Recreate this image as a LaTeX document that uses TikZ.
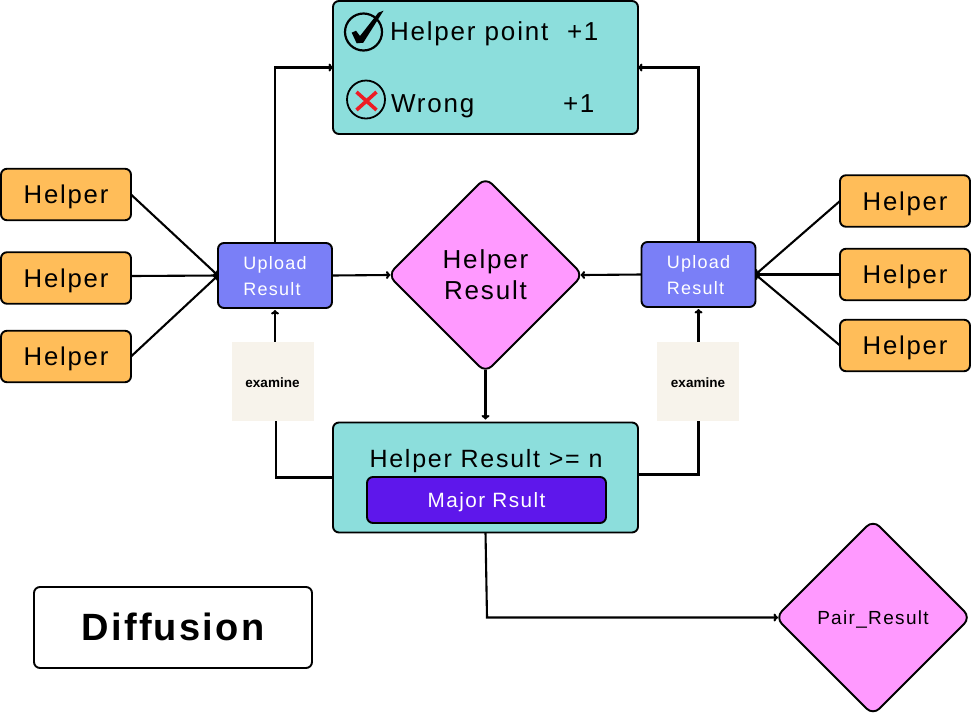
\documentclass[tikz,border=0pt]{standalone}
\usepackage{fontspec}
\usetikzlibrary{arrows.meta,shapes.geometric,calc}
\setmainfont{Liberation Sans}
\newfontfamily\lsfont[LetterSpace=7]{Liberation Sans}
\newfontfamily\lsbold[LetterSpace=6,BoldFont={Liberation Sans Bold}]{Liberation Sans}
\definecolor{cOrange}{HTML}{FFBD59}
\definecolor{cTeal}{HTML}{8CDEDC}
\definecolor{cBlue}{HTML}{7A7FF7}
\definecolor{cPink}{HTML}{FF99FF}
\definecolor{cMajor}{HTML}{5E17EB}
\definecolor{cExam}{HTML}{F7F3EB}
\definecolor{cRed}{HTML}{ED1C24}
\newcommand{\uptext}{\raisebox{-6.5pt}[0pt][0pt]{\begin{tabular}{@{}l@{}}Upload\\Result\end{tabular}}}
\tikzset{
  base/.style={draw=black,line width=1.9pt,rounded corners=6pt,inner sep=0pt,outer sep=0pt},
  helperbox/.style={base,fill=cOrange,minimum width=130pt,minimum height=51.5pt,text height=18pt,text depth=0pt,font=\fontsize{25.7}{28}\selectfont\lsfont},
  uploadbox/.style={base,fill=cBlue,minimum width=114pt,minimum height=65pt,text=white,font=\fontsize{18}{26}\selectfont\lsfont},
  tealbox/.style={base,fill=cTeal,minimum width=305pt},
  pinkdiamond/.style={draw=black,line width=1.9pt,fill=cPink,diamond,aspect=1,rounded corners=9pt,inner sep=0pt,outer sep=0pt,minimum width=195pt,minimum height=195pt,align=center},
  exambox/.style={fill=cExam,inner sep=0pt,outer sep=0pt,text height=12pt,text depth=0pt,font=\fontsize{13.5}{16}\selectfont\bfseries},
  label/.style={inner sep=0pt,outer sep=0pt,anchor=base west,font=\fontsize{26}{28}\selectfont\lsfont},
  conn/.style={draw=black,line width=2.1pt},
  arr/.style={conn,-{To[length=4.5pt,width=8pt]}},
}
\begin{document}
\begin{tikzpicture}[x=1pt,y=-1pt]
\useasboundingbox (0,0) rectangle (971,716);
% helpers left
\node[helperbox] (hl1) at (66,194.5) {Helper};
\node[helperbox] (hl2) at (66,278) {Helper};
\node[helperbox] (hl3) at (66,356.5) {Helper};
% helpers right
\node[helperbox] (hr1) at (905,201) {Helper};
\node[helperbox] (hr2) at (905,274.5) {Helper};
\node[helperbox] (hr3) at (905,345.5) {Helper};
% uploads
\node[uploadbox] (upl) at (275,275.5) {\uptext};
\node[uploadbox] (upr) at (698.5,274.5) {\uptext};
% score box
\node[tealbox,minimum height=133pt] (score) at (485.5,67.5) {};
\node[circle,draw=black,line width=2.2pt,minimum size=37pt,inner sep=0pt] (okc) at (363.5,32) {};
\fill[black] (351.7,32.7) -- (356,30.7) -- (360,36) -- (378.3,12.7) -- (383.5,10.7) -- (363.3,42.7) -- (356.7,43.3) -- cycle;
\node[circle,draw=black,line width=1.8pt,minimum size=38pt,inner sep=0pt] (noc) at (366,99.5) {};
\draw[cRed,line width=3.6pt] (356.5,92) -- (376.5,110) (376.5,92) -- (356.5,110);
\node[label] (t1) at (390,40) {Helper point};
\node[label] (t2) at (567,40.5) {+1};
\node[label] (t3) at (391,112) {Wrong};
\node[label] (t4) at (563,112) {+1};
% diamonds
\node[pinkdiamond,font=\fontsize{26}{31}\selectfont\lsfont] (dmid) at (485.5,275) {Helper\\Result};
\node[pinkdiamond,text height=13pt,text depth=0pt,font=\fontsize{19}{22}\selectfont\lsfont] (dpair) at (873,617.5) {Pair\_Result};
% result box
\node[tealbox,minimum height=110pt] (res) at (485.5,477.5) {};
\node[inner sep=0pt,font=\fontsize{25}{28}\selectfont\lsfont] (rest) at (486,461) {Helper Result >= n};
\node[base,fill=cMajor,text=white,minimum width=239pt,minimum height=46pt,text height=14.5pt,text depth=0pt,font=\fontsize{20.7}{24}\selectfont\lsfont] (maj) at (486.5,500) {Major Rsult};
% examine
\node[exambox,minimum width=82pt,minimum height=79pt] (exl) at (272.5,381) {examine};
\node[exambox,minimum width=82pt,minimum height=79pt] (exr) at (698,381.5) {examine};
% diffusion
\node[base,fill=white,minimum width=278pt,minimum height=81pt,text height=27pt,text depth=2pt,font=\fontsize{38}{42}\selectfont\lsbold\bfseries] (diff) at (173,627.5) {Diffusion};
% connectors
\draw[arr] (hl1.east) -- (upl.west);
\draw[arr] ($(hl2.east)+(0,-2)$) -- (upl.west);
\draw[arr] (hl3.east) -- (upl.west);
\draw[arr] (hr1.west) -- (upr.east);
\draw[arr] (hr2.west) -- (upr.east);
\draw[arr] (hr3.west) -- (upr.east);
\draw[arr] (upl.north) |- (score.west);
\draw[arr] (upr.north) |- (score.east);
\draw[arr,shorten >=-2.5pt] (upl.east) -- (dmid.west);
\draw[arr,shorten >=-2.5pt] (upr.west) -- (dmid.east);
\draw[arr,shorten <=-3pt,shorten >=3pt] (dmid.south) -- (res.north);
\draw[conn] (res.west) -| ($(upl.south |- exl.south)+(1,0)$);
\draw[arr,shorten >=2pt] (upl.south |- exl.north) -- (upl.south);
\draw[conn] ($(res.east)+(0,-3)$) -| (upr.south |- exr.south);
\draw[arr,shorten >=2pt] (upr.south |- exr.north) -- (upr.south);
\coordinate (bend) at (487,617.5);
\draw[arr,shorten >=-2.5pt] (res.south) -- (bend) -- (dpair.west);
\end{tikzpicture}
\end{document}
